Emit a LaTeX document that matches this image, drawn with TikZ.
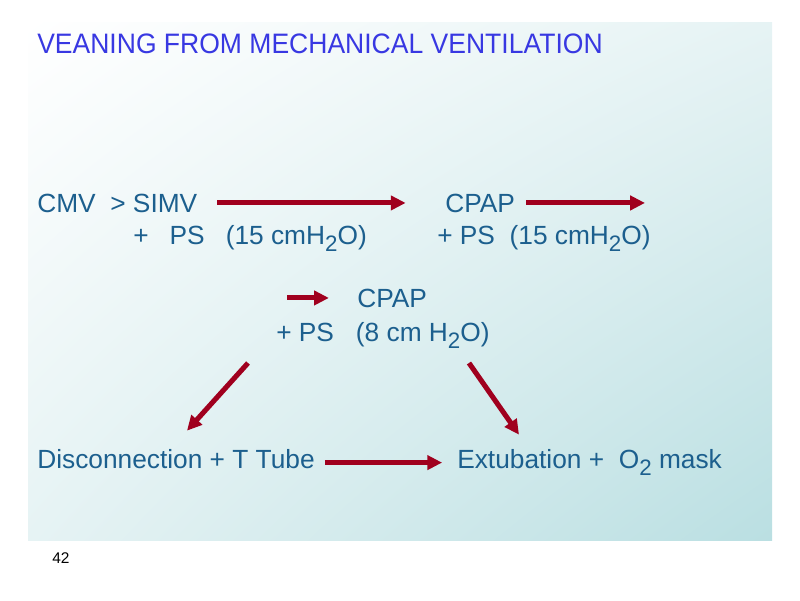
\documentclass[tikz,border=0pt]{standalone}
\usepackage{fontspec}
\setmainfont{Liberation Sans}
\usetikzlibrary{positioning,arrows.meta,shadings}
\definecolor{TitleBlue}{HTML}{3838E2}
\definecolor{StepTeal}{HTML}{1C5F8E}
\definecolor{ArrowRed}{HTML}{A0001E}
\definecolor{PanelTeal}{HTML}{BADFE2}
\definecolor{PanelMid}{HTML}{E6F3F4}
\newcommand\lowtwo{\raisebox{-0.3em}{\scalebox{0.85}{2}}}

\begin{document}
\begin{tikzpicture}[x=0.025cm,y=-0.025cm,
  every node/.style={inner sep=0pt,anchor=base west},
  steptext/.style={text=StepTeal,font=\fontsize{18.7}{22}\selectfont},
  flow/.style={-{Triangle[length=10.5pt,width=10pt]},line width=3.6pt,ArrowRed}]
  \useasboundingbox (0,0) rectangle (800,600);
  \shade[upper left=white,upper right=PanelMid,lower left=PanelMid,lower right=PanelTeal] (28,22) rectangle (772,540);
  \node[font=\fontsize{20}{24}\selectfont,text=TitleBlue] (title) at (37,53) {\scalebox{0.943}[1]{VEANING FROM MECHANICAL VENTILATION}};
  % first row
  \node[steptext] (simv) at (37,212) {CMV\ \ > SIMV};
  \node[steptext] (simvps) at (133,244) {+\hspace{0.8em}PS\hspace{0.8em}(15 cmH\lowtwo O)};
  \node[steptext] (cpapA) at (445,212) {CPAP};
  \node[steptext] (cpapAps) at (437,244) {+ PS\ \ (15 cmH\lowtwo O)};
  \coordinate (onward) at (645,198);
  % second row
  \coordinate (inflow) at (287,299);
  \node[steptext] (cpapB) at (357,307) {CPAP};
  \node[steptext] (cpapBps) at (276,341) {+ PS\ \ \ (8 cm H\lowtwo O)};
  \coordinate (splitL) at (248,363);
  \coordinate (splitR) at (469,363);
  % last row
  \node[steptext] (tube) at (37,468) {Disconnection + T Tube};
  \node[steptext] (extub) at (457,468) {Extubation +\ \ O\lowtwo\ mask};
  \node[font=\fontsize{11}{13}\selectfont] (page) at (52,563) {42};
  \draw[flow,shorten <=14pt,shorten >=28pt] (simv.east) -- (cpapA.west);
  \draw[flow,shorten <=8pt] (cpapA.east) -- (cpapA.east -| onward);
  \draw[flow,shorten >=20pt] (inflow |- cpapB.west) -- (cpapB.west);
  \draw[flow] (splitL) -- ([shift={(11,-18)}]tube.north);
  \draw[flow] (splitR) -- ([shift={(62,-14)}]extub.north west);
  \draw[flow,shorten <=7pt,shorten >=10.6pt] ([shift={(0,4)}]tube.east) -- ([shift={(0,4)}]tube.east -| extub.west);
\end{tikzpicture}
\end{document}
